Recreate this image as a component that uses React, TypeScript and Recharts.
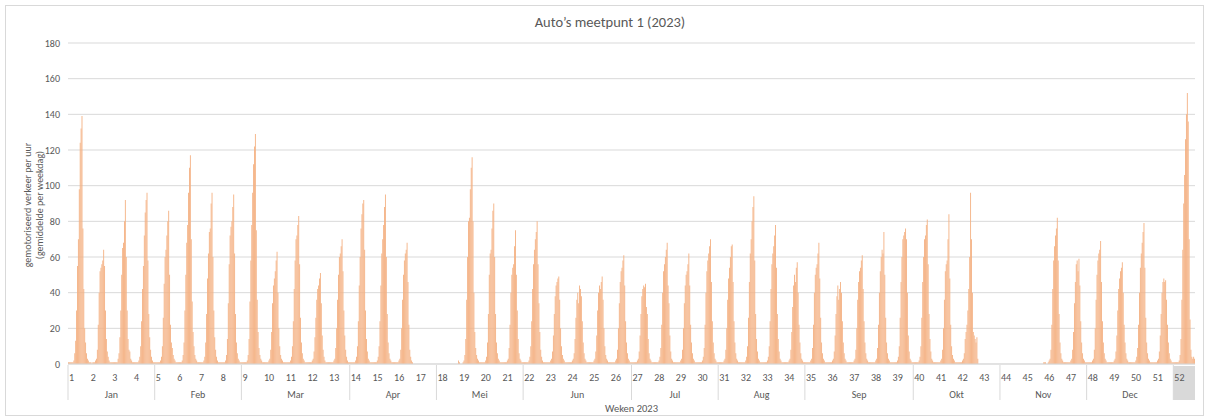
import React from "react";
import { Bar, BarChart, CartesianGrid, XAxis, YAxis } from "recharts";

// gemiddeld verkeer per uur, 24 waarden per week (week 1..52)
const WEEK_VALUES: string[] = [
  "1 1 1 1 1 1 2 6 13 30 55 70 98 124 132 139 76 42 20 12 6 3 2 1",
  "1 1 0 1 1 1 2 3 8 22 40 52 54 56 58 64 55 30 14 7 4 2 1 1",
  "1 1 1 1 1 1 1 3 6 15 30 50 65 68 80 92 60 30 14 8 7 3 2 1",
  "1 1 1 1 1 1 2 4 10 24 42 55 72 85 92 96 58 28 15 8 4 2 1 1",
  "1 1 1 1 1 1 2 4 10 26 45 60 64 72 80 86 50 22 12 9 5 3 2 1",
  "1 1 1 1 1 1 2 5 12 30 50 68 78 96 110 117 70 35 18 10 5 3 2 1",
  "1 1 1 1 1 1 2 4 12 28 48 62 74 76 90 96 60 30 15 8 4 2 1 1",
  "1 1 1 1 1 1 2 5 14 34 56 72 77 80 88 95 62 28 12 6 3 2 1 1",
  "1 1 1 1 1 1 2 5 14 35 58 78 96 112 122 129 75 36 18 9 5 3 2 1",
  "1 1 1 1 1 1 2 3 8 18 34 44 48 52 58 63 40 20 10 5 3 2 1 1",
  "1 1 1 1 1 1 2 4 10 24 42 58 70 72 78 83 56 26 12 6 3 2 1 1",
  "1 1 1 1 1 1 2 3 7 15 26 36 42 44 48 51 34 16 8 4 2 1 1 1",
  "1 1 1 1 1 1 2 3 9 20 36 50 60 62 66 70 52 30 16 8 4 2 1 1",
  "1 1 1 1 1 1 2 4 10 24 44 60 76 84 90 92 64 30 14 7 3 2 1 1",
  "1 1 1 1 1 1 2 4 10 24 44 62 70 78 88 95 60 28 12 6 3 2 1 1",
  "1 1 1 1 1 1 2 3 8 20 36 50 58 62 64 68 46 22 8 4 2 1 0 0",
  "0 0 0 0 0 0 0 0 0 0 0 0 0 0 0 0 0 0 0 0 0 0 0 0",
  "0 0 0 0 0 0 0 0 0 0 0 0 0 0 0 0 0 0 0 0 0 0 0 0",
  "2 1 0 0 0 1 2 5 14 36 60 80 82 98 110 116 80 40 18 9 5 3 2 1",
  "1 1 1 1 1 1 2 4 12 28 50 62 64 76 86 90 60 28 12 6 3 2 1 1",
  "1 1 1 1 1 1 2 3 9 22 40 50 54 56 66 75 50 30 14 6 3 2 1 1",
  "1 1 1 1 1 1 2 4 10 24 42 56 64 70 74 80 56 34 18 8 4 2 1 1",
  "1 1 1 1 1 1 2 3 7 16 28 38 44 46 48 49 36 20 10 5 3 2 1 1",
  "1 1 1 1 1 1 2 3 6 14 26 36 40 34 44 42 38 24 12 6 3 2 1 1",
  "1 1 1 1 1 1 2 3 7 16 30 40 44 42 46 49 36 20 10 5 3 2 1 1",
  "1 1 1 1 1 1 2 3 8 20 34 46 52 54 58 61 44 24 12 6 3 2 1 1",
  "1 1 1 1 1 1 2 3 7 16 28 38 42 44 43 45 32 28 14 6 3 2 1 1",
  "1 1 1 1 1 1 2 4 9 22 40 52 56 60 64 68 44 34 16 7 3 2 1 1",
  "1 1 1 1 1 1 2 3 8 20 34 44 50 52 56 62 44 22 12 6 3 2 1 1",
  "1 1 1 1 1 1 2 4 9 22 40 52 58 62 66 70 46 24 12 6 3 2 1 1",
  "1 1 1 1 1 1 2 3 8 20 36 48 54 60 66 67 46 24 12 6 3 2 1 1",
  "1 1 1 1 1 1 2 4 10 26 46 62 70 80 88 94 58 28 14 7 3 2 1 1",
  "1 1 1 1 1 1 2 4 10 24 42 56 62 66 72 78 54 28 14 7 3 2 1 1",
  "1 1 1 1 1 1 2 3 8 18 32 44 50 46 54 57 40 22 12 6 3 2 1 1",
  "1 1 1 1 1 1 2 3 9 22 40 50 54 56 62 68 48 26 12 6 3 2 1 1",
  "1 1 1 1 1 1 2 3 7 16 28 38 44 36 42 46 40 24 12 6 3 2 1 1",
  "1 1 1 1 1 1 2 3 8 20 36 46 52 54 58 61 42 24 12 6 3 2 1 1",
  "1 1 1 1 1 1 2 3 9 22 40 52 60 64 62 74 50 26 12 6 3 2 1 1",
  "1 1 1 1 1 1 2 4 10 26 46 60 70 72 74 76 70 40 16 7 3 2 1 1",
  "1 1 1 1 1 1 2 4 10 26 46 60 70 72 78 81 56 28 14 7 3 2 1 1",
  "1 1 1 1 1 1 2 3 8 20 36 52 56 58 70 84 48 22 10 5 3 2 1 1",
  "1 1 1 1 1 1 2 3 6 14 18 22 30 42 60 96 70 40 18 16 14 12 15 3",
  "0 0 0 0 0 0 0 0 0 0 0 0 0 0 0 0 0 0 0 0 0 0 0 0",
  "0 0 0 0 0 0 0 0 0 0 0 0 0 0 0 0 0 0 0 0 0 0 0 0",
  "0 0 0 0 0 0 0 0 0 0 0 0 0 0 0 0 0 0 0 0 0 0 0 0",
  "1 1 1 0 0 1 2 3 8 22 42 58 66 72 76 82 58 28 12 6 3 2 1 1",
  "1 1 1 1 1 1 2 3 8 18 34 46 56 58 52 59 44 24 12 6 3 2 1 1",
  "1 1 1 1 1 1 2 3 8 20 36 50 58 62 64 69 46 24 12 6 3 2 1 1",
  "1 1 1 1 1 1 2 3 7 16 30 42 48 52 54 57 40 22 12 6 3 2 1 1",
  "1 1 1 1 1 1 2 4 9 22 40 54 62 68 74 79 54 26 12 6 3 2 1 1",
  "1 1 1 1 1 1 2 3 7 16 28 40 46 48 46 47 36 22 12 6 3 2 1 1",
  "1 1 1 1 1 1 2 5 14 36 64 90 106 126 140 152 136 70 25 8 4 3 4 3",
];

const MONTHS = ["Jan", "Feb", "Mar", "Apr", "Mei", "Jun", "Jul", "Aug", "Sep", "Okt", "Nov", "Dec"];
const MONTH_START_WEEK = [1, 5, 9, 14, 18, 22, 27, 31, 35, 40, 44, 48, 52];
const Y_TICKS = [0, 20, 40, 60, 80, 100, 120, 140, 160, 180];

const SLOTS = 24;
const W = 1208;
const H = 420;
const PLOT_LEFT = 68;
const PLOT_RIGHT = 1195;
const PLOT_TOP = 43;
const PLOT_BOTTOM = 364;
const BAND = (PLOT_RIGHT - PLOT_LEFT) / (WEEK_VALUES.length * SLOTS);
const WEEK_W = BAND * SLOTS;

const TEXT = "#595959";
const GRID = "#D9D9D9";
const FONT = "Carlito, Calibri, 'Liberation Sans', Arial, sans-serif";

const data = WEEK_VALUES.flatMap((s, w) => {
  const vals = s.trim().split(/\s+/).map(Number);
  while (vals.length < SLOTS) vals.push(0);
  return vals.slice(0, SLOTS).map((v, h) => ({ i: w * SLOTS + h, v }));
});
const weekTicks = WEEK_VALUES.map((_, w) => w * SLOTS);

function WeekTick(props: any) {
  const { x, y, payload } = props;
  const idx = payload.value as number;
  const week = Math.floor(idx / SLOTS) + 1;
  const left = x - BAND / 2;
  const m = MONTH_START_WEEK.indexOf(week);
  const isLast = week === WEEK_VALUES.length;
  let span = 0;
  if (m >= 0 && m < MONTHS.length) span = MONTH_START_WEEK[m + 1] - MONTH_START_WEEK[m];
  return (
    <g fontFamily={FONT}>
      {isLast && <rect x={left} y={y + 2} width={WEEK_W} height={34} fill={GRID} />}
      {m >= 0 && <line x1={left} x2={left} y1={y + 1} y2={y + 36} stroke={GRID} strokeWidth={1} />}
      {span > 0 && (
        <text x={left + (span * WEEK_W) / 2} y={y + 33.5} textAnchor="middle" fontSize={10} fill={TEXT}>
          {MONTHS[m]}
        </text>
      )}
      <text x={left + 1} y={y + 16.5} textAnchor="start" fontSize={10} fill={TEXT}>
        {week}
      </text>
      {idx === 0 && (
        <text x={(PLOT_LEFT + PLOT_RIGHT) / 2} y={y + 47.5} textAnchor="middle" fontSize={10.5} fill={TEXT}>
          Weken 2023
        </text>
      )}
    </g>
  );
}

export default function App() {
  return (
    <div style={{ position: "relative", width: W, height: H, background: "#fff", fontFamily: FONT }}>
      <style>{"body{margin:0}"}</style>
      <div
        style={{
          position: "absolute",
          left: 5,
          top: 5,
          width: W - 11,
          height: H - 11,
          border: `1px solid ${GRID}`,
        }}
      />
      <BarChart
        width={W}
        height={H}
        data={data}
        barCategoryGap={0}
        barGap={0}
        margin={{ top: PLOT_TOP, right: W - PLOT_RIGHT, bottom: 0, left: 0 }}
        style={{ position: "absolute", left: 0, top: 0 }}
      >
        <CartesianGrid vertical={false} stroke={GRID} />
        <YAxis
          domain={[0, 180]}
          ticks={Y_TICKS}
          width={PLOT_LEFT}
          axisLine={false}
          tickLine={false}
          tickSize={0}
          tickMargin={8}
          tick={{ fontSize: 10, fill: TEXT, fontFamily: FONT }}
        />
        <XAxis
          dataKey="i"
          ticks={weekTicks}
          interval={0}
          height={H - PLOT_BOTTOM}
          tickSize={0}
          tickMargin={0}
          tickLine={false}
          axisLine={{ stroke: GRID }}
          tick={(p: any) => <WeekTick {...p} />}
        />
        <Bar dataKey="v" fill="#F4B183" isAnimationActive={false} />
      </BarChart>
      <svg width={W} height={H} style={{ position: "absolute", left: 0, top: 0, pointerEvents: "none" }}>
        <text x={610} y={27} textAnchor="middle" fontSize={14.5} fill={TEXT} fontFamily={FONT}>
          Auto’s meetpunt 1 (2023)
        </text>
        <g transform="translate(28,205) rotate(-90)" fontFamily={FONT} fontSize={10} fill={TEXT}>
          <text x={0} y={3} textAnchor="middle">gemotoriseerd verkeer per uur</text>
          <text x={0} y={15} textAnchor="middle">(gemiddelde per weekdag)</text>
        </g>
      </svg>
    </div>
  );
}
